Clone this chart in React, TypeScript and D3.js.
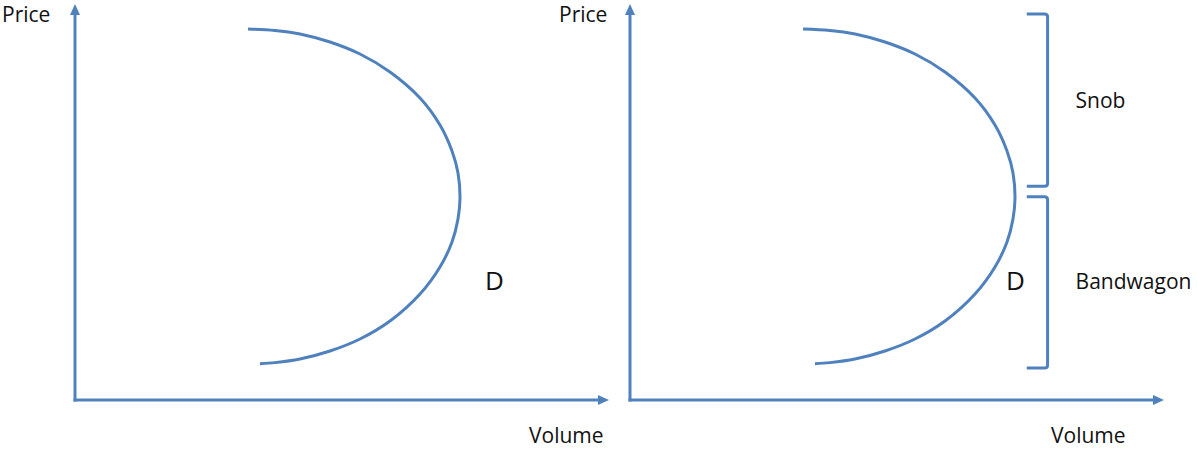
import React from "react";
import * as d3 from "d3";

// Demand curve D (volume, price) in abstract units 0..10
const curveVolume = [3.24, 3.745, 4.213, 4.775, 5.337, 5.899, 6.461, 6.835, 7.06, 7.172, 7.21, 7.172, 7.06, 6.835, 6.461, 5.899, 5.337, 4.775, 4.213, 3.745, 3.464];
const curvePrice = [9.369, 9.333, 9.242, 9.04, 8.737, 8.283, 7.626, 6.944, 6.288, 5.732, 5.101, 4.571, 3.99, 3.359, 2.677, 1.995, 1.54, 1.237, 1.035, 0.944, 0.917];

// Brackets on the right panel (price ranges)
const bracketLabels = ["Snob", "Bandwagon"];
const bracketTop = [9.75, 5.13];
const bracketBottom = [5.4, 0.81];
const bracketVolume = [7.43, 7.82];

const axisLabels = { x: "Volume", y: "Price" };
const curveLabel = "D";

const BLUE = "#4F81BD";
const FONT = "'Open Sans', Lato, sans-serif";

type PanelProps = { ox: number; showBrackets: boolean; dPos: number[]; volOffset: number; priceOffset: number };

function Panel({ ox, showBrackets, dPos, volOffset, priceOffset }: PanelProps) {
  const x = d3.scaleLinear().domain([0, 10]).range([ox, ox + 534]);
  const y = d3.scaleLinear().domain([0, 10]).range([400, 4]);
  const pts: [number, number][] = curveVolume.map((v, i) => [x(v), y(curvePrice[i])]);
  const line = d3.line().curve(d3.curveCatmullRom.alpha(0.5))(pts) || "";
  const x0 = x(0), y0 = y(0), xEnd = x(10), yEnd = y(10);
  const ah = 11, aw = 5;
  return (
    <g>
      <line x1={x0} y1={y0 + 1.5} x2={x0} y2={yEnd + ah - 1} stroke={BLUE} strokeWidth={3} />
      <path d={`M${x0},${yEnd} L${x0 - aw},${yEnd + ah} L${x0 + aw},${yEnd + ah} Z`} fill={BLUE} />
      <line x1={x0 - 1.5} y1={y0} x2={xEnd - ah + 1} y2={y0} stroke={BLUE} strokeWidth={3} />
      <path d={`M${xEnd},${y0} L${xEnd - ah},${y0 - aw} L${xEnd - ah},${y0 + aw} Z`} fill={BLUE} />
      <path d={line} fill="none" stroke={BLUE} strokeWidth={3} />
      <text x={x0 + priceOffset} y={22} fontFamily={FONT} fontSize={21} fill="#111">{axisLabels.y}</text>
      <text x={x0 + volOffset} y={443} fontFamily={FONT} fontSize={21} fill="#111">{axisLabels.x}</text>
      <text x={x(dPos[0])} y={y(dPos[1])} fontFamily={FONT} fontSize={26} fill="#111">{curveLabel}</text>
      {showBrackets &&
        bracketLabels.map((lab, i) => {
          const xa = x(bracketVolume[0]);
          const xb = x(bracketVolume[1]);
          const yt = y(bracketTop[i]);
          const yb = y(bracketBottom[i]);
          const r = 3;
          const d = `M${xa},${yt} L${xb - r},${yt} Q${xb},${yt} ${xb},${yt + r} L${xb},${yb - r} Q${xb},${yb} ${xb - r},${yb} L${xa},${yb}`;
          return (
            <g key={lab}>
              <path d={d} fill="none" stroke={BLUE} strokeWidth={3} />
              <text x={xb + 28} y={i === 0 ? 108 : 289} fontFamily={FONT} fontSize={21} fill="#111">{lab}</text>
            </g>
          );
        })}
    </g>
  );
}

export default function App() {
  return (
    <svg width={1197} height={450} style={{ position: "absolute", left: 0, top: 0, background: "#fff" }}>
      <rect width={1197} height={450} fill="#fff" />
      <Panel ox={75} showBrackets={false} dPos={[7.68, 2.77]} volOffset={454} priceOffset={-73} />
      <Panel ox={630} showBrackets={true} dPos={[7.04, 2.77]} volOffset={421} priceOffset={-71} />
    </svg>
  );
}
